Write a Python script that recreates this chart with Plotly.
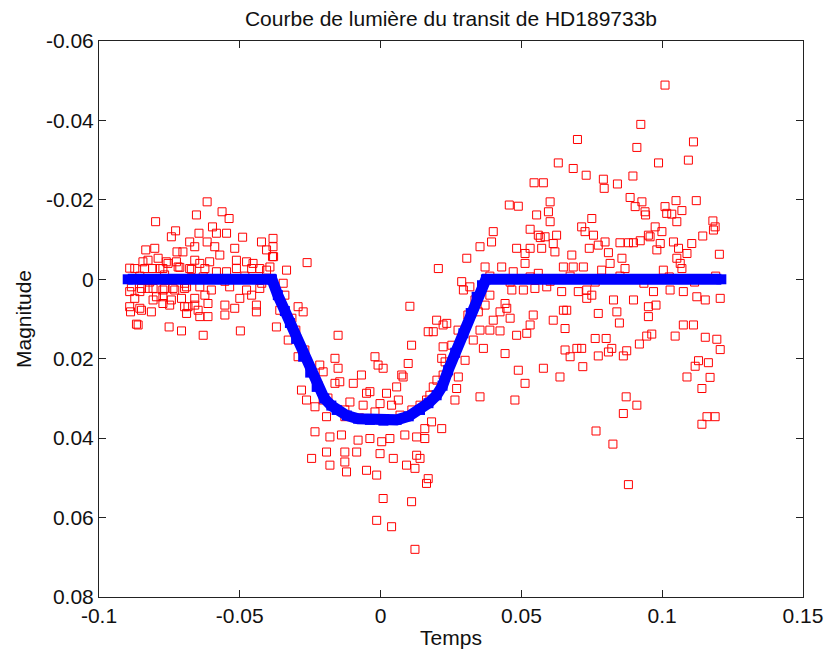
import plotly.graph_objects as go

# ---- Observed magnitudes (time in days from mid-transit, magnitude) ----
# before transit / left part
t_pre = [-0.0891, -0.0873, -0.0844, -0.0838, -0.0834, -0.0826, -0.0810, -0.0802, -0.0799, -0.0790,
         -0.0784, -0.0773, -0.0761, -0.0755, -0.0743, -0.0728, -0.0725, -0.0723, -0.0719, -0.0713,
         -0.0702, -0.0678, -0.0678, -0.0672, -0.0660, -0.0660, -0.0654, -0.0645, -0.0642, -0.0624,
         -0.0616, -0.0616, -0.0607, -0.0597, -0.0589, -0.0583, -0.0583, -0.0571, -0.0563, -0.0547,
         -0.0547, -0.0538, -0.0518, -0.0512, -0.0512, -0.0490, -0.0476, -0.0458, -0.0453, -0.0429,
         -0.0423, -0.0405, -0.0405, -0.0384, -0.0382,
         -0.0855, -0.0820, -0.0767, -0.0696, -0.0630, -0.0553, -0.0482, -0.0422,
         -0.0891, -0.0885, -0.0873, -0.0855, -0.0849, -0.0826, -0.0808, -0.0808, -0.0796, -0.0773,
         -0.0773, -0.0767, -0.0743, -0.0737, -0.0731, -0.0707, -0.0696, -0.0689, -0.0660, -0.0642,
         -0.0624, -0.0601, -0.0536, -0.0500, -0.0476, -0.0458, -0.0429,
         -0.0891, -0.0888, -0.0855, -0.0849, -0.0814, -0.0773, -0.0749, -0.0696, -0.0684, -0.0660,
         -0.0648, -0.0613, -0.0553, -0.0518, -0.0441, -0.0441, -0.0689, -0.0642, -0.0613, -0.0553,
         -0.0867, -0.0861, -0.0751, -0.0707, -0.0630, -0.0498, -0.0370]
m_pre = [-0.0028, -0.0027, -0.0044, -0.0027, -0.0074, -0.0048, -0.0027, -0.0078, -0.0145, -0.0053,
         -0.0027, -0.0027, -0.0044, -0.0040, -0.0107, -0.0122, -0.0044, -0.0069, -0.0031, -0.0030,
         -0.0069, -0.0094, -0.0027, -0.0025, -0.0082, -0.0048, -0.0162, -0.0116, -0.0040, -0.0027,
         -0.0195, -0.0094, -0.0044, -0.0132, -0.0082, -0.0116, -0.0019, -0.0061, -0.0170, -0.0116,
         -0.0019, -0.0153, -0.0078, -0.0048, -0.0027, -0.0106, -0.0044, -0.0027, -0.0040, -0.0027,
         -0.0094, -0.0074, -0.0023, -0.0057, -0.0103,
         -0.0008, 0.0007, -0.0011, 0.0010, -0.0006, 0.0005, -0.0008, 0.0010,
         0.0031, 0.0019, 0.0048, 0.0031, 0.0023, 0.0023, 0.0023, 0.0052, 0.0044, 0.0027,
         0.0044, 0.0023, 0.0052, 0.0023, 0.0027, 0.0048, 0.0023, 0.0019, 0.0048, 0.0019,
         0.0040, 0.0027, 0.0019, 0.0048, 0.0027, 0.0040, 0.0023,
         0.0069, 0.0082, 0.0073, 0.0078, 0.0082, 0.0061, 0.0065, 0.0069, 0.0069, 0.0065,
         0.0078, 0.0061, 0.0090, 0.0073, 0.0065, 0.0082, 0.0086, 0.0094, 0.0094, 0.0065,
         0.0113, 0.0115, 0.0120, 0.0130, 0.0141, 0.0130, 0.0120]

# during transit
t_in = [-0.0382, -0.0380, -0.0393, -0.0334, -0.0261, 0.0104, -0.0346, -0.0358, -0.0293, -0.0275,
        -0.0328, -0.0151, 0.0169, 0.0110, -0.0293, -0.0162, -0.0020, -0.0009, 0.0009, 0.0098,
        -0.0216, -0.0204, -0.0151, -0.0068, 0.0075, 0.0080, -0.0281, -0.0162, -0.0145, -0.0097,
        -0.0050, -0.0038, 0.0021, 0.0057, -0.0263, -0.0204, -0.0109, -0.0062, -0.0002, 0.0039,
        0.0063, 0.0163, -0.0233, -0.0192, -0.0127, -0.0233, -0.0180, -0.0139, -0.0080, -0.0038,
        0.0004, 0.0033, 0.0086, 0.0128, 0.0157, 0.0157, -0.0245, -0.0192, -0.0180, -0.0127,
        -0.0127, -0.0121, -0.0085, -0.0050, -0.0014, -0.0002, 0.0045, 0.0092, 0.0128, 0.0140,
        0.0122, 0.0169, 0.0163, 0.0009, 0.0110, -0.0014, 0.0039, 0.0122,
        -0.0340, -0.0315, -0.0301, -0.0269, -0.0244, -0.0223, -0.0187, -0.0127, -0.0074, -0.0020,
        0.0026, 0.0069, 0.0111, 0.0140, 0.0175, 0.0200, 0.0239]
m_in = [-0.0082, -0.0057, -0.0031, -0.0023, -0.0042, 0.0068, 0.0010, 0.0078, 0.0069, 0.0082,
        0.0153, 0.0141, 0.0132, 0.0166, 0.0195, 0.0199, 0.0195, 0.0216, 0.0224, 0.0212,
        0.0216, 0.0233, 0.0224, 0.0241, 0.0241, 0.0246, 0.0279, 0.0262, 0.0258, 0.0262,
        0.0287, 0.0283, 0.0287, 0.0271, 0.0304, 0.0304, 0.0309, 0.0317, 0.0313, 0.0317,
        0.0304, 0.0304, 0.0321, 0.0346, 0.0346, 0.0384, 0.0397, 0.0392, 0.0405, 0.0401,
        0.0409, 0.0401, 0.0392, 0.0397, 0.0401, 0.0376, 0.0451, 0.0435, 0.0468, 0.0435,
        0.0460, 0.0485, 0.0435, 0.0481, 0.0493, 0.0439, 0.0451, 0.0468, 0.0443, 0.0451,
        0.0476, 0.0502, 0.0514, 0.0552, 0.0560, 0.0607, 0.0623, 0.0680,
        0.0040, 0.0098, 0.0128, 0.0178, 0.0234, 0.0266, 0.0299, 0.0329, 0.0349, 0.0334,
        0.0354, 0.0342, 0.0329, 0.0317, 0.0292, 0.0254, 0.0234]

# egress / just after transit
t_egr = [0.0205, 0.0199, 0.0222, 0.0222, 0.0217, 0.0222, 0.0187, 0.0181, 0.0217,
         0.0699, 0.0631, 0.0684, 0.0545, 0.0578, 0.0457, 0.0489, 0.0602, 0.0596, 0.0554,
         0.0602, 0.0400, 0.0531, 0.0560, 0.0584, 0.0625, 0.0394, 0.0353, 0.0483, 0.0513,
         0.0531, 0.0572, 0.0613, 0.0619, 0.0679, 0.0306, 0.0371, 0.0430, 0.0513, 0.0560,
         0.0471, 0.0649, 0.0684, 0.0288, 0.0294, 0.0317, 0.0466, 0.0507, 0.0548, 0.0590,
         0.0643, 0.0702, 0.0388, 0.0371, 0.0442, 0.0448, 0.0424, 0.0347, 0.0542, 0.0460,
         0.0400, 0.0649, 0.0661, 0.0613, 0.0655, 0.0531, 0.0388, 0.0424, 0.0483, 0.0519,
         0.0353, 0.0235, 0.0187, 0.0329, 0.0365, 0.0442, 0.0655, 0.0697, 0.0673, 0.0229,
         0.0300, 0.0276, 0.0489, 0.0578, 0.0637, 0.0513, 0.0270, 0.0353, 0.0477, 0.0264,
         0.0567, 0.0388, 0.0460, 0.0531, 0.0602, 0.0673, 0.0253, 0.0275, 0.0310, 0.0335]
m_egr = [-0.0027, 0.0103, 0.0115, 0.0170, 0.0199, 0.0241, 0.0271, 0.0359, 0.0376,
         -0.0352, -0.0293, -0.0279, -0.0243, -0.0243, -0.0187, -0.0184, -0.0195, -0.0170, -0.0162,
         -0.0145, -0.0120, -0.0126, -0.0111, -0.0107, -0.0111, -0.0094, -0.0082, -0.0078, -0.0065,
         -0.0078, -0.0078, -0.0090, -0.0069, -0.0061, -0.0053, -0.0031, -0.0031, -0.0040, -0.0015,
         -0.0019, -0.0031, -0.0031, 0.0006, 0.0027, 0.0019, 0.0027, 0.0027, 0.0023, 0.0019,
         0.0031, 0.0031, 0.0040, 0.0065, 0.0061, 0.0073, 0.0082, 0.0082, 0.0090, 0.0098,
         0.0103, 0.0078, 0.0078, 0.0103, 0.0124, 0.0115, 0.0128, 0.0130, 0.0141, 0.0136,
         0.0128, 0.0111, 0.0132, 0.0153, 0.0174, 0.0187, 0.0178, 0.0174, 0.0195, 0.0208,
         0.0204, 0.0246, 0.0229, 0.0224, 0.0246, 0.0262, 0.0275, 0.0296, 0.0304, 0.0304,
         -0.0105, -0.0008, 0.0007, -0.0006, 0.0005, -0.0008, 0.0166, 0.0128, 0.0090, 0.0052]

# after transit
t_post = [0.1010, 0.0924, 0.1111, 0.0910, 0.0987, 0.1093, 0.0730, 0.0791, 0.0794, 0.0841,
          0.0896, 0.0886, 0.0928, 0.0904, 0.0939, 0.0941, 0.1010, 0.1049, 0.1121, 0.1070,
          0.1016, 0.1034, 0.1052, 0.0750, 0.1180, 0.1188, 0.1182, 0.1144, 0.0975, 0.0999,
          0.0957, 0.0714, 0.0726, 0.0756, 0.0797, 0.0850, 0.0898, 0.0922, 0.0993, 0.1040,
          0.1105, 0.0741, 0.0773, 0.0809, 0.0857, 0.0981, 0.1058, 0.1088, 0.1052, 0.1064,
          0.1203, 0.0815, 0.0868, 0.0785, 0.1004, 0.1070, 0.0951, 0.0880, 0.0720, 0.0732,
          0.0750, 0.0827, 0.0898, 0.0969, 0.1028, 0.1075, 0.1123, 0.1153, 0.1206, 0.0951,
          0.0978, 0.0773, 0.0839, 0.0848, 0.0951, 0.1075, 0.1111, 0.1046, 0.0945, 0.0963,
          0.0919, 0.1153, 0.1194, 0.1206, 0.0762, 0.0801, 0.0714, 0.0773, 0.0809, 0.0821,
          0.0862, 0.0874, 0.0718, 0.1129, 0.1117, 0.1164, 0.1088, 0.1170, 0.1141, 0.0872,
          0.0910, 0.0862, 0.1159, 0.1188, 0.1141, 0.0765, 0.0825, 0.0880, 0.0732,
          0.0762, 0.0850, 0.0935, 0.1025, 0.1115, 0.1190]
m_post = [-0.0489, -0.0390, -0.0346, -0.0332, -0.0293, -0.0300, -0.0262, -0.0252, -0.0229, -0.0240,
          -0.0260, -0.0206, -0.0195, -0.0183, -0.0170, -0.0162, -0.0183, -0.0198, -0.0198, -0.0173,
          -0.0166, -0.0164, -0.0145, -0.0153, -0.0147, -0.0132, -0.0124, -0.0109, -0.0132, -0.0120,
          -0.0107, -0.0132, -0.0120, -0.0111, -0.0094, -0.0092, -0.0092, -0.0097, -0.0090, -0.0094,
          -0.0090, -0.0078, -0.0086, -0.0067, -0.0053, -0.0074, -0.0078, -0.0065, -0.0053, -0.0040,
          -0.0063, -0.0040, -0.0027, -0.0023, -0.0023, -0.0027, -0.0111, -0.0092, -0.0031, 0.0027,
          0.0040, 0.0052, 0.0052, 0.0031, 0.0027, 0.0031, 0.0044, 0.0052, 0.0048, 0.0069,
          0.0065, 0.0086, 0.0082, 0.0110, 0.0094, 0.0115, 0.0115, 0.0143, 0.0143, 0.0138,
          0.0163, 0.0146, 0.0151, 0.0177, 0.0149, 0.0149, 0.0174, 0.0193, 0.0183, 0.0174,
          0.0193, 0.0180, 0.0220, 0.0205, 0.0219, 0.0210, 0.0246, 0.0247, 0.0275, 0.0296,
          0.0317, 0.0338, 0.0346, 0.0346, 0.0365, 0.0382, 0.0415, 0.0517, 0.0048,
          0.0007, -0.0008, 0.0010, -0.0006, 0.0007, -0.0008]

# ---- Transit model curve ----
t_model = [-0.0898, -0.0386, -0.0365, -0.0340, -0.0322, -0.0300, -0.0275, -0.0250, -0.0227, -0.0200,
           -0.0175, -0.0156, -0.0120, -0.0080, -0.0038, 0.0010, 0.0057, 0.0100, 0.0140, 0.0170,
           0.0199, 0.0220, 0.0240, 0.0265, 0.0294, 0.0320, 0.0341, 0.0360, 0.0374, 0.1210]
m_model = [0.0, 0.0, 0.0040, 0.0080, 0.0110, 0.0150, 0.0195, 0.0235, 0.0271, 0.0300,
           0.0318, 0.0329, 0.0343, 0.0351, 0.0354, 0.0356, 0.0354, 0.0345, 0.0329, 0.0312,
           0.0292, 0.0268, 0.0229, 0.0185, 0.0136, 0.0085, 0.0044, 0.0015, 0.0, 0.0]

# ---- Axis ticks ----
x_ticks = [-0.1, -0.05, 0, 0.05, 0.1, 0.15]
x_labels = ["-0.1", "-0.05", "0", "0.05", "0.1", "0.15"]
y_ticks = [-0.06, -0.04, -0.02, 0, 0.02, 0.04, 0.06, 0.08]
y_labels = ["-0.06", "-0.04", "-0.02", "0", "0.02", "0.04", "0.06", "0.08"]

title_text = "Courbe de lumière du transit de HD189733b"
x_title = "Temps"
y_title = "Magnitude"

for a, b in [(t_pre, m_pre), (t_in, m_in), (t_egr, m_egr), (t_post, m_post), (t_model, m_model)]:
    assert len(a) == len(b), (len(a), len(b))

t_obs = t_pre + t_in + t_egr + t_post
m_obs = m_pre + m_in + m_egr + m_post

fig = go.Figure()
fig.add_trace(go.Scatter(
    x=t_obs, y=m_obs, mode="markers", showlegend=False, hoverinfo="skip",
    marker=dict(symbol="square-open", size=8, color="#ff0000",
                line=dict(width=1, color="#ff0000")),
))
fig.add_trace(go.Scatter(
    x=t_model, y=m_model, mode="lines+markers", showlegend=False, hoverinfo="skip",
    line=dict(color="#0000ff", width=11),
    marker=dict(symbol="square", size=10, color="#0000ff", line=dict(width=0)),
))

font_family = "Liberation Sans, Arial, Helvetica, sans-serif"
txt = dict(family=font_family, size=21, color="#111111")
axis_common = dict(
    tickmode="array", ticks="inside", ticklen=7, tickwidth=1, tickcolor="#222222",
    showline=True, linecolor="#222222", linewidth=1, mirror="ticks",
    showgrid=False, zeroline=False, automargin=False,
    tickfont=txt,
)

fig.update_layout(
    template="none",
    width=825, height=655,
    margin=dict(l=99, r=22, t=41, b=58, pad=0),
    paper_bgcolor="white", plot_bgcolor="white",
    font=txt,
    title=dict(text=title_text, x=0.5, xref="paper", xanchor="center",
               y=0.972, yref="container", yanchor="middle", font=txt),
    xaxis=dict(range=[-0.1, 0.15], tickvals=x_ticks, ticktext=x_labels,
               title=dict(text=x_title, standoff=4, font=txt),
               **axis_common),
    yaxis=dict(range=[0.08, -0.06], tickvals=y_ticks, ticktext=y_labels,
               title=dict(text=y_title, standoff=8, font=txt),
               **axis_common),
)

# remove the browser's default 8 px body margin so the figure fills the window exactly
fig.write_html(
    "out.html",
    config={"staticPlot": True, "displayModeBar": False},
    post_script="document.body.style.margin='0';document.body.style.overflow='hidden';",
)
